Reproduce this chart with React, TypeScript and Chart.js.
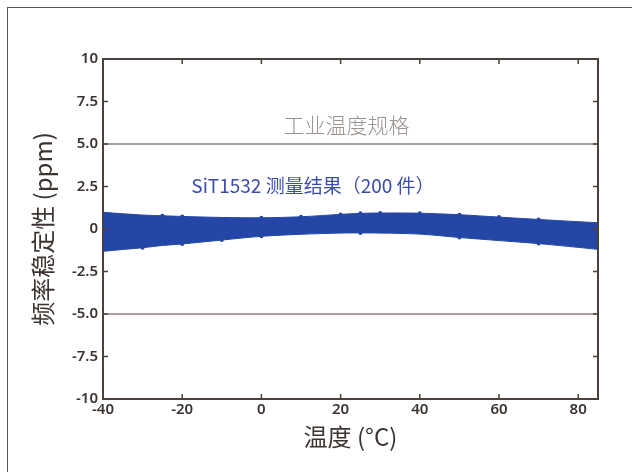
import React, { useEffect, useRef } from "react";
import { Chart, registerables } from "chart.js";

Chart.register(...registerables);

// Measurement temperatures (°C)
const temps = [-40, -30, -25, -20, -10, 0, 10, 20, 25, 30, 40, 50, 60, 70, 80, 85];
// Upper envelope of 200 devices (ppm)
const upperPpm = [0.98, 0.82, 0.78, 0.74, 0.68, 0.66, 0.72, 0.86, 0.92, 0.94, 0.93, 0.84, 0.7, 0.56, 0.43, 0.37];
// Lower envelope of 200 devices (ppm)
const lowerPpm = [-1.31, -1.1, -0.97, -0.88, -0.65, -0.43, -0.31, -0.24, -0.23, -0.24, -0.3, -0.5, -0.68, -0.86, -1.08, -1.2];
// Temperatures where a few devices stick out of the band
const upperSpikeTemps = [-25, -20, 0, 10, 20, 25, 30, 40, 50, 60, 70];
const lowerSpikeTemps = [-30, -20, -10, 0, 25, 50, 70];
// Industrial spec limits (ppm)
const specLimits = [5, -5];
// Axis ticks
const xTicks = [-40, -20, 0, 20, 40, 60, 80];
const yTicks = [10, 7.5, 5, 2.5, 0, -2.5, -5, -7.5, -10];
const yTickLabels = ["10", "7.5", "5.0", "2.5", "0", "-2.5", "-5.0", "-7.5", "-10"];

const specText = "工业温度规格";
const resultText = "SiT1532 测量结果（200 件）";

const BAND = "#2446a6";
const AXIS = "#4a413d";
const TEXT = "#3b3431";

export default function App() {
  const ref = useRef<HTMLCanvasElement | null>(null);

  useEffect(() => {
    const canvas = ref.current;
    if (!canvas) return;

    const framePlugin = {
      id: "frame",
      afterDatasetsDraw(chart: any) {
        const { ctx, chartArea: a, scales } = chart;
        const xs = scales.x;
        const ys = scales.y;
        ctx.save();
        // annotations
        ctx.textAlign = "center";
        ctx.textBaseline = "middle";
        ctx.fillStyle = "#9a9390";
        ctx.font = "300 21px 'Noto Sans CJK SC'";
        ctx.fillText(specText, xs.getPixelForValue(21.5), ys.getPixelForValue(6.1));
        ctx.textAlign = "left";
        ctx.fillStyle = "#3d4dab";
        ctx.font = "19px 'Noto Sans CJK SC'";
        ctx.fillText(resultText, xs.getPixelForValue(-17.7), ys.getPixelForValue(2.55));
        // box
        ctx.strokeStyle = AXIS;
        ctx.lineWidth = 2;
        ctx.strokeRect(a.left, a.top, a.right - a.left, a.bottom - a.top);
        // inward ticks on all sides
        const tl = 5;
        ctx.lineWidth = 1.5;
        ctx.beginPath();
        xTicks.forEach((v) => {
          const px = xs.getPixelForValue(v);
          ctx.moveTo(px, a.bottom);
          ctx.lineTo(px, a.bottom - tl);
          ctx.moveTo(px, a.top);
          ctx.lineTo(px, a.top + tl);
        });
        yTicks.forEach((v) => {
          const py = ys.getPixelForValue(v);
          ctx.moveTo(a.left, py);
          ctx.lineTo(a.left + tl, py);
          ctx.moveTo(a.right, py);
          ctx.lineTo(a.right - tl, py);
        });
        ctx.stroke();
        ctx.restore();
      },
    };

    const radiusFor = (spikes: number[]) => (c: any) =>
      spikes.includes(temps[c.dataIndex]) ? 2 : 0;

    const chart = new Chart(canvas, {
      type: "line",
      data: {
        datasets: [
          {
            data: temps.map((t, i) => ({ x: t, y: upperPpm[i] })),
            borderColor: BAND,
            backgroundColor: BAND,
            borderWidth: 1,
            fill: "+1",
            pointRadius: radiusFor(upperSpikeTemps),
            pointBackgroundColor: BAND,
            pointBorderWidth: 0,
            tension: 0.3,
          },
          {
            data: temps.map((t, i) => ({ x: t, y: lowerPpm[i] })),
            borderColor: BAND,
            backgroundColor: BAND,
            borderWidth: 1,
            fill: false,
            pointRadius: radiusFor(lowerSpikeTemps),
            pointBackgroundColor: BAND,
            pointBorderWidth: 0,
            tension: 0.3,
          },
          ...specLimits.map((v) => ({
            data: [
              { x: -40, y: v },
              { x: 85, y: v },
            ],
            borderColor: "#8c817c",
            borderWidth: 1.6,
            pointRadius: 0,
            fill: false,
          })),
        ],
      },
      options: {
        responsive: false,
        animation: false,
        layout: { padding: { top: 59, right: 34, left: 0, bottom: 0 } },
        plugins: { legend: { display: false }, tooltip: { enabled: false } },
        scales: {
          x: {
            type: "linear",
            min: -40,
            max: 85,
            grid: { display: false, drawTicks: false },
            border: { display: false },
            afterBuildTicks: (s: any) => {
              s.ticks = xTicks.map((v) => ({ value: v }));
            },
            afterFit: (s: any) => {
              s.height = 73;
            },
            ticks: {
              padding: 2,
              color: TEXT,
              font: { family: "'Noto Sans'", size: 15, weight: "600" },
              maxRotation: 0,
            },
            title: {
              display: true,
              text: "温度 (°C)",
              color: TEXT,
              font: { family: "'Noto Sans CJK SC'", size: 24 },
              padding: { top: 0, bottom: 21 },
            },
          },
          y: {
            type: "linear",
            min: -10,
            max: 10,
            grid: { display: false, drawTicks: false },
            border: { display: false },
            afterBuildTicks: (s: any) => {
              s.ticks = yTicks.map((v) => ({ value: v }));
            },
            afterFit: (s: any) => {
              s.width = 103;
            },
            ticks: {
              padding: 5,
              color: TEXT,
              font: { family: "'Noto Sans'", size: 15, weight: "600" },
              callback: (v: any) => {
                const i = yTicks.indexOf(Number(v));
                return i >= 0 ? yTickLabels[i] : "";
              },
            },
            title: {
              display: true,
              text: "频率稳定性 (ppm)",
              color: TEXT,
              font: { family: "'Noto Sans CJK SC'", size: 24 },
              padding: { top: 28, bottom: 0 },
            },
          },
        },
      },
      plugins: [framePlugin],
    } as any);

    return () => chart.destroy();
  }, []);

  return (
    <div style={{ position: "absolute", left: 0, top: 0, width: 632, height: 472, background: "#fff" }}>
      <div
        style={{
          position: "absolute",
          left: 7,
          top: 7,
          width: 625,
          height: 465,
          borderTop: "1.5px solid #555",
          borderLeft: "1.5px solid #555",
        }}
      />
      <canvas ref={ref} width={632} height={472} style={{ position: "absolute", left: 0, top: 0 }} />
    </div>
  );
}
